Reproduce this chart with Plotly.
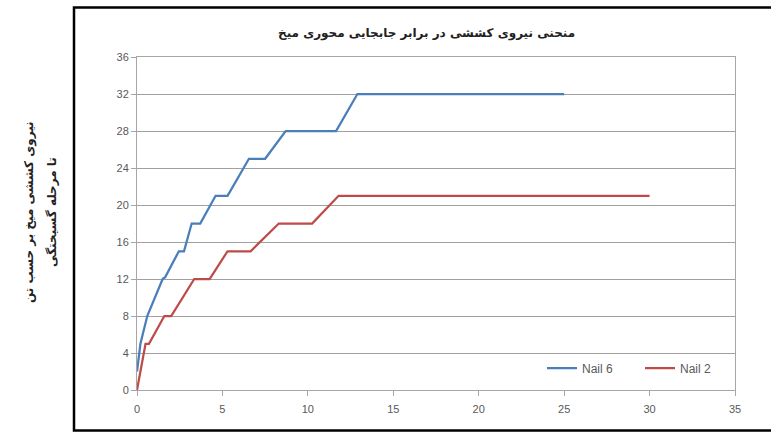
import plotly.graph_objects as go

# Nail 6 (blue)
nail6_x = [0, 0.2, 0.6, 1.5, 1.65, 2.45, 2.75, 3.2, 3.7, 4.6, 5.3, 6.55, 7.5, 8.7, 11.65, 12.9, 25]
nail6_y = [2, 5, 8, 12, 12.2, 15, 15, 18, 18, 21, 21, 25, 25, 28, 28, 32, 32]

# Nail 2 (red)
nail2_x = [0, 0.5, 0.7, 1.6, 2.0, 3.35, 4.25, 5.3, 6.65, 8.3, 10.25, 11.8, 30]
nail2_y = [0, 5, 5, 8, 8, 12, 12, 15, 15, 18, 18, 21, 21]

x_ticks = [0, 5, 10, 15, 20, 25, 30, 35]
y_ticks = [0, 4, 8, 12, 16, 20, 24, 28, 32, 36]

title_text = "منحنی نیروی کششی در برابر جابجایی محوری میخ"
ytitle_line1 = "نیروی کششی میخ بر حسب تن"
ytitle_line2 = "تا مرحله گسیختگی"

fig = go.Figure()
fig.add_trace(go.Scatter(x=nail6_x, y=nail6_y, mode="lines", name="Nail 6",
                         line=dict(color="#4A7EBB", width=2.25)))
fig.add_trace(go.Scatter(x=nail2_x, y=nail2_y, mode="lines", name="Nail 2",
                         line=dict(color="#BE4B48", width=2.25)))

L, R, T, B = 137, 36, 57, 42
W, H = 771, 432
pw, ph = W - L - R, H - T - B

def px(X):
    return (X - L) / pw

def py(Y):
    return (H - B - Y) / ph

fig.update_layout(
    width=W, height=H,
    margin=dict(l=L, r=R, t=T, b=B, autoexpand=False),
    paper_bgcolor="white", plot_bgcolor="white",
    font=dict(family="Liberation Sans, Arial, sans-serif", size=11, color="#595959"),
    showlegend=True,
    legend=dict(orientation="h", x=px(542), xanchor="left", y=py(368), yanchor="middle",
                bgcolor="rgba(0,0,0,0)", font=dict(size=12, color="#595959"),
                entrywidth=53, entrywidthmode="pixels", itemwidth=30, tracegroupgap=0),
    xaxis=dict(range=[0, 35], tickvals=x_ticks, ticktext=[str(v) for v in x_ticks],
               showgrid=False, zeroline=False, showline=True, linecolor="#a6a6a6", linewidth=1,
               mirror=True, ticks="outside", ticklen=5, tickcolor="#a6a6a6",
               ticklabelstandoff=4),
    yaxis=dict(range=[0, 36], tickvals=y_ticks, ticktext=[str(v) for v in y_ticks],
               showgrid=True, gridcolor="#a0a0a0", gridwidth=1, zeroline=False,
               showline=True, linecolor="#a6a6a6", linewidth=1, mirror=True,
               ticks="outside", ticklen=5, tickcolor="#a6a6a6"),
    annotations=[
        dict(text="<b>" + title_text + "</b>", x=px(426), y=py(33), xref="paper", yref="paper",
             showarrow=False, xanchor="center", yanchor="middle",
             font=dict(family="DejaVu Sans", size=12, color="#222222")),
        dict(text="<b>" + ytitle_line1 + "</b>", x=px(30), y=py(212), xref="paper", yref="paper",
             showarrow=False, xanchor="center", yanchor="middle", textangle=-90,
             font=dict(family="DejaVu Sans", size=12, color="#222222")),
        dict(text="<b>" + ytitle_line2 + "</b>", x=px(52), y=py(212), xref="paper", yref="paper",
             showarrow=False, xanchor="center", yanchor="middle", textangle=-90,
             font=dict(family="DejaVu Sans", size=12, color="#222222")),
    ],
    shapes=[
        dict(type="rect", xref="paper", yref="paper", x0=px(74), x1=px(780), y0=py(430.5), y1=py(7.5),
             line=dict(color="black", width=2.5), fillcolor="rgba(0,0,0,0)", layer="above"),
    ],
)

fig.write_html("out.html", config={"displayModeBar": False},
               post_script="document.body.style.margin='0';")
